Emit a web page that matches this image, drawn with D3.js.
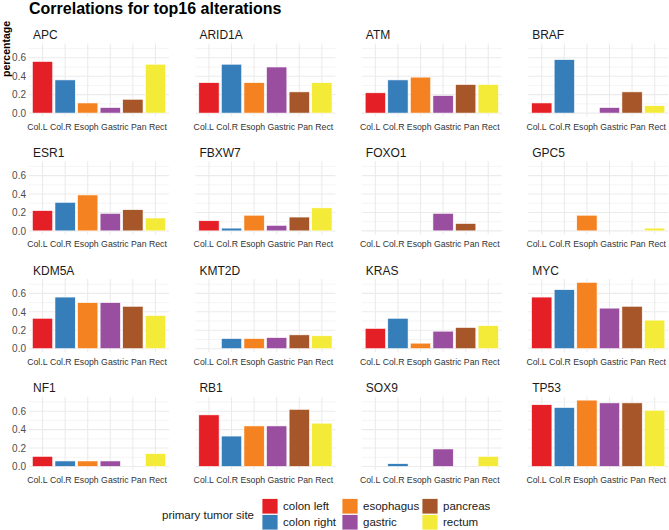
<!DOCTYPE html>
<html>
    <head>
        <script src="https://cdnjs.cloudflare.com/ajax/libs/d3/7.8.5/d3.min.js"></script>
        <title>Correlations for top16 alterations</title>
        <style>
            html, body {
                margin: 0;
                background: #fff;
            }
            svg {
                display: block;
                font-family: "Liberation Sans", Arial, sans-serif;
            }
        </style>
    </head>
    <body>
        <svg width="669" height="530" class="chart"></svg>

        <script>
            // categories
            var sites = ["Col.L", "Col.R", "Esoph", "Gastric", "Pan", "Rect"];
            var siteNames = ["colon left", "colon right", "esophagus", "gastric", "pancreas", "rectum"];
            var siteColors = ["#E41F26", "#367EBA", "#F58220", "#9A4E9F", "#A65628", "#F4EB38"];
            var yTicks = [0, 0.2, 0.4, 0.6];

            // percentage per site (null = no bar)
            var APC    = [0.56, 0.36, 0.11, 0.06, 0.15, 0.53];
            var ARID1A = [0.33, 0.53, 0.33, 0.50, 0.23, 0.33];
            var ATM    = [0.22, 0.36, 0.39, 0.19, 0.31, 0.31];
            var BRAF   = [0.11, 0.58, null, 0.06, 0.23, 0.08];
            var ESR1   = [0.22, 0.31, 0.39, 0.19, 0.23, 0.14];
            var FBXW7  = [0.11, 0.03, 0.17, 0.06, 0.15, 0.25];
            var FOXO1  = [null, null, null, 0.19, 0.08, null];
            var GPC5   = [null, null, 0.17, null, null, 0.03];
            var KDM5A  = [0.33, 0.56, 0.50, 0.50, 0.46, 0.36];
            var KMT2D  = [null, 0.11, 0.11, 0.12, 0.15, 0.14];
            var KRAS   = [0.22, 0.33, 0.06, 0.19, 0.23, 0.25];
            var MYC    = [0.56, 0.64, 0.72, 0.44, 0.46, 0.31];
            var NF1    = [0.11, 0.06, 0.06, 0.06, null, 0.14];
            var RB1    = [0.56, 0.33, 0.44, 0.44, 0.62, 0.47];
            var SOX9   = [null, 0.03, null, 0.19, null, 0.11];
            var TP53   = [0.67, 0.64, 0.72, 0.69, 0.69, 0.61];

            var genes = ["APC", "ARID1A", "ATM", "BRAF", "ESR1", "FBXW7", "FOXO1", "GPC5",
                         "KDM5A", "KMT2D", "KRAS", "MYC", "NF1", "RB1", "SOX9", "TP53"];
            var geneValues = [APC, ARID1A, ATM, BRAF, ESR1, FBXW7, FOXO1, GPC5,
                              KDM5A, KMT2D, KRAS, MYC, NF1, RB1, SOX9, TP53];

            // layout
            var marginLeft = 29, marginTop = 43.4;
            var panelW = 140, panelH = 73;
            var colStep = 166.4, rowStep = 117.8;

            var svg = d3.select(".chart");

            var x = d3.scaleBand()
                .domain(sites)
                .range([0, panelW])
                .paddingInner(0.1)
                .paddingOuter(0.15);

            // ggplot-like 5% expansion
            var yMax = d3.max(geneValues, function(v){ return d3.max(v); });
            var y = d3.scaleLinear()
                .domain([-yMax * 0.05, yMax * 1.05])
                .range([panelH, 0]);

            var color = d3.scaleOrdinal().domain(sites).range(siteColors);

            // title + y label
            svg.append("text")
                .attr("x", marginLeft)
                .attr("y", 14)
                .style("font-size", "16px")
                .style("font-weight", "bold")
                .attr("fill", "#000")
                .text("Correlations for top16 alterations");

            svg.append("text")
                .attr("transform", "translate(9.5,49) rotate(-90)")
                .attr("text-anchor", "middle")
                .style("font-size", "10.5px")
                .style("font-weight", "bold")
                .attr("fill", "#000")
                .text("percentage");

            var minorTicks = [0.1, 0.3, 0.5, 0.7];

            genes.forEach(function(gene, i){
                var col = i % 4, row = Math.floor(i / 4);
                var g = svg.append("g")
                    .attr("transform", "translate(" + (marginLeft + col * colStep) + "," + (marginTop + row * rowStep) + ")");

                // grid
                g.selectAll(".minor")
                    .data(minorTicks)
                    .enter()
                    .append("line")
                    .attr("x1", 0).attr("x2", panelW)
                    .attr("y1", function(d){ return y(d); })
                    .attr("y2", function(d){ return y(d); })
                    .attr("stroke", "#EBEBEB")
                    .attr("stroke-width", 0.55);

                g.selectAll(".major")
                    .data(yTicks)
                    .enter()
                    .append("line")
                    .attr("x1", 0).attr("x2", panelW)
                    .attr("y1", function(d){ return y(d); })
                    .attr("y2", function(d){ return y(d); })
                    .attr("stroke", "#EBEBEB")
                    .attr("stroke-width", 1.1);

                g.selectAll(".vgrid")
                    .data(sites)
                    .enter()
                    .append("line")
                    .attr("x1", function(d){ return x(d) + x.bandwidth() / 2; })
                    .attr("x2", function(d){ return x(d) + x.bandwidth() / 2; })
                    .attr("y1", 0).attr("y2", panelH)
                    .attr("stroke", "#EBEBEB")
                    .attr("stroke-width", 1.1);

                // bars
                var vals = geneValues[i];
                g.selectAll("rect")
                    .data(sites.map(function(s, j){ return {site: s, value: vals[j]}; })
                               .filter(function(d){ return d.value != null; }))
                    .enter()
                    .append("rect")
                    .attr("x", function(d){ return x(d.site); })
                    .attr("width", x.bandwidth())
                    .attr("y", function(d){ return y(d.value); })
                    .attr("height", function(d){ return y(0) - y(d.value); })
                    .attr("fill", function(d){ return color(d.site); })
                    .attr("stroke", "#fff")
                    .attr("stroke-width", 0.6);

                // strip
                g.append("text")
                    .attr("x", 4)
                    .attr("y", -4.5)
                    .style("font-size", "12px")
                    .attr("fill", "#1A1A1A")
                    .text(gene);

                // x axis
                var xa = g.append("g")
                    .attr("transform", "translate(0," + panelH + ")")
                    .call(d3.axisBottom(x).tickSize(0).tickPadding(7));
                xa.select(".domain").remove();
                xa.selectAll("text")
                    .style("font-size", "8.7px")
                    .style("font-family", "Liberation Sans, Arial, sans-serif")
                    .attr("fill", "#333");

                // pack labels like the original rendering: one line, single spaces
                var labels = xa.selectAll("text").nodes();
                var space = 8.7 * 0.278;
                var widths = labels.map(function(n){ return n.getComputedTextLength(); });
                var total = d3.sum(widths) + space * (labels.length - 1);
                var cursor = panelW / 2 - 2 - total / 2;
                xa.selectAll(".tick").each(function(d, j){
                    var cx = cursor + widths[j] / 2;
                    cursor += widths[j] + space;
                    d3.select(this).select("text")
                        .attr("x", cx - (x(d) + x.bandwidth() / 2));
                });

                // y axis only on first column
                if (col === 0) {
                    var ya = g.append("g")
                        .call(d3.axisLeft(y).tickValues(yTicks).tickFormat(d3.format(".1f")).tickSize(0).tickPadding(3));
                    ya.select(".domain").remove();
                    ya.selectAll("text")
                        .style("font-size", "10px")
                        .style("font-family", "Liberation Sans, Arial, sans-serif")
                        .attr("fill", "#4D4D4D");
                }
            });

            // legend
            var legend = svg.append("g");
            legend.append("text")
                .attr("x", 162)
                .attr("y", 515)
                .attr("dy", "0.35em")
                .style("font-size", "11.5px")
                .attr("fill", "#1A1A1A")
                .text("primary tumor site");

            var items = legend.selectAll(".item")
                .data(siteNames)
                .enter()
                .append("g")
                .attr("transform", function(d, i){
                    return "translate(" + (262 + Math.floor(i / 2) * 80) + "," + (498.5 + (i % 2) * 16) + ")";
                });

            items.append("rect")
                .attr("width", 16)
                .attr("height", 15.5)
                .attr("fill", function(d, i){ return siteColors[i]; })
                .attr("stroke", "#fff")
                .attr("stroke-width", 0.8);

            items.append("text")
                .attr("x", 21)
                .attr("y", 7.8)
                .attr("dy", "0.35em")
                .style("font-size", "11.5px")
                .attr("fill", "#1A1A1A")
                .text(function(d){ return d; });
        </script>
    </body>
</html>
